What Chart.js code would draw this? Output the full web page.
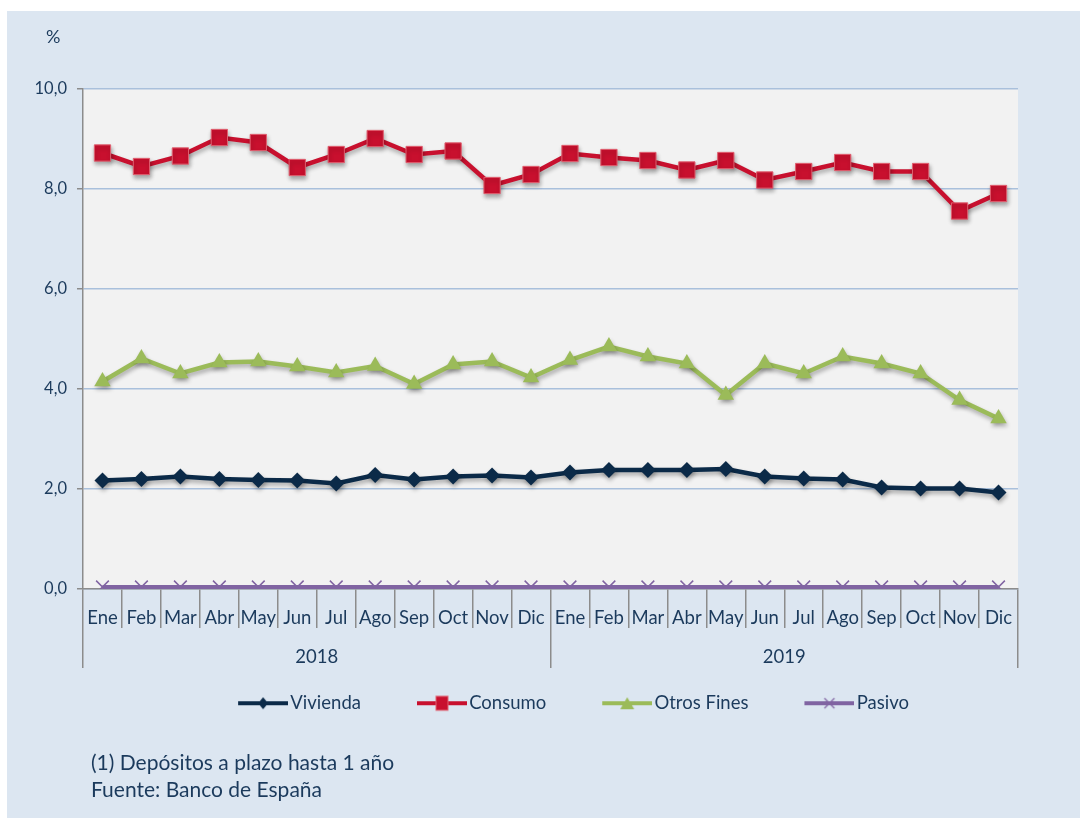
<!DOCTYPE html>
<html lang="es">
<head>
<meta charset="utf-8">
<script src="https://cdn.jsdelivr.net/npm/chart.js@4.4.1/dist/chart.umd.min.js"></script>
<style>
  html, body { margin: 0; padding: 0; background: #fff; }
  body { width: 1080px; height: 818px; position: relative; overflow: hidden; font-family: Lato, sans-serif; color: #1b3a5c; }
  #fondo { position: absolute; left: 7px; top: 11px; right: 0; bottom: 0; background: #dce6f1; }
  #grafico { position: absolute; left: 0; top: 0; }
  .txt { position: absolute; white-space: nowrap; line-height: 1; }
</style>
</head>
<body>
<div id="fondo"></div>
<canvas id="grafico" width="1080" height="818"></canvas>
<div class="txt" style="left:46px; top:27px; font-size:18px;">%</div>
<div class="txt" style="left:91px; top:751px; font-size:21px;">(1) Depósitos a plazo hasta 1 año</div>
<div class="txt" style="left:91px; top:778px; font-size:21px;">Fuente: Banco de España</div>
<script>
// datos
const meses = ['Ene', 'Feb', 'Mar', 'Abr', 'May', 'Jun', 'Jul', 'Ago', 'Sep', 'Oct', 'Nov', 'Dic',
               'Ene', 'Feb', 'Mar', 'Abr', 'May', 'Jun', 'Jul', 'Ago', 'Sep', 'Oct', 'Nov', 'Dic'];
const anios = ['2018', '2019'];
const vivienda = [2.17, 2.20, 2.25, 2.20, 2.18, 2.17, 2.11, 2.28, 2.19, 2.25, 2.27, 2.23,
                  2.33, 2.38, 2.38, 2.38, 2.40, 2.25, 2.21, 2.19, 2.03, 2.01, 2.01, 1.93];
const consumo = [8.72, 8.45, 8.66, 9.03, 8.93, 8.43, 8.69, 9.01, 8.69, 8.76, 8.07, 8.29,
                 8.71, 8.63, 8.57, 8.38, 8.57, 8.18, 8.35, 8.53, 8.35, 8.35, 7.56, 7.91];
const otrosFines = [4.15, 4.61, 4.31, 4.53, 4.55, 4.45, 4.33, 4.46, 4.10, 4.49, 4.55, 4.23,
                    4.58, 4.85, 4.65, 4.51, 3.88, 4.51, 4.31, 4.65, 4.51, 4.31, 3.78, 3.41];
const pasivo = [0.04, 0.04, 0.04, 0.04, 0.04, 0.04, 0.04, 0.04, 0.04, 0.04, 0.04, 0.04,
                0.04, 0.04, 0.04, 0.04, 0.04, 0.04, 0.04, 0.04, 0.04, 0.04, 0.04, 0.04];

const azulTexto = '#1b3a5c';
const gris = '#8c8c8c';
const fuente = 'Lato';

// iconos de la leyenda: linea + marcador (la linea va pegada al borde derecho)
const anchoIcono = 103;
function icono(color, tipo) {
  const c = document.createElement('canvas');
  c.width = anchoIcono; c.height = 20;
  const g = c.getContext('2d');
  g.strokeStyle = color;
  g.lineWidth = 4;
  g.beginPath(); g.moveTo(anchoIcono - 50, 10); g.lineTo(anchoIcono, 10); g.stroke();
  g.fillStyle = color;
  const cx = anchoIcono - 25, cy = 10;
  g.beginPath();
  if (tipo === 'rombo') {
    g.moveTo(cx, cy - 6); g.lineTo(cx + 5, cy); g.lineTo(cx, cy + 6); g.lineTo(cx - 5, cy); g.closePath(); g.fill();
  } else if (tipo === 'cuadrado') {
    g.fillRect(cx - 6, cy - 7, 12, 14);
    g.strokeStyle = '#e06070'; g.lineWidth = 1; g.strokeRect(cx - 6, cy - 7, 12, 14);
  } else if (tipo === 'triangulo') {
    g.moveTo(cx, cy - 6); g.lineTo(cx + 7, cy + 6); g.lineTo(cx - 7, cy + 6); g.closePath(); g.fill();
  } else {
    g.lineWidth = 1.2;
    g.moveTo(cx - 5, cy - 5); g.lineTo(cx + 5, cy + 5);
    g.moveTo(cx + 5, cy - 5); g.lineTo(cx - 5, cy + 5); g.stroke();
  }
  return c;
}
const iconos = [
  icono('#0b2a48', 'rombo'),
  icono('#c8102e', 'cuadrado'),
  icono('#9bbb59', 'triangulo'),
  icono('#8064a2', 'cruz')
];

const fondoArea = {
  id: 'fondoArea',
  beforeDraw(chart) {
    const { ctx, chartArea: a } = chart;
    ctx.save();
    ctx.fillStyle = '#f2f2f2';
    ctx.fillRect(a.left, a.top, a.right - a.left, a.bottom - a.top);
    ctx.restore();
  }
};

// sombra bajo las lineas (como en Excel)
const sombra = {
  id: 'sombra',
  beforeDatasetDraw(chart, args) {
    if (args.index === 3) return;
    const ctx = chart.ctx;
    ctx.save();
    ctx.shadowColor = 'rgba(0,0,0,0.3)';
    ctx.shadowBlur = 4;
    ctx.shadowOffsetX = 1;
    ctx.shadowOffsetY = 3;
  },
  afterDatasetDraw(chart, args) {
    if (args.index === 3) return;
    chart.ctx.restore();
  }
};

new Chart(document.getElementById('grafico'), {
  type: 'line',
  data: {
    labels: meses,
    datasets: [
      {
        label: 'Vivienda', data: vivienda,
        borderColor: '#0b2a48', backgroundColor: '#0b2a48', borderWidth: 4.5,
        pointStyle: 'rectRot', pointRadius: 8, pointBorderWidth: 0, pointBackgroundColor: '#0b2a48'
      },
      {
        label: 'Consumo', data: consumo,
        borderColor: '#c8102e', backgroundColor: '#c8102e', borderWidth: 4.5,
        pointStyle: 'rect', pointRadius: 11.5, pointBorderWidth: 1,
        pointBackgroundColor: '#c8102e', pointBorderColor: '#e06070'
      },
      {
        label: 'Otros Fines', data: otrosFines,
        borderColor: '#9bbb59', backgroundColor: '#9bbb59', borderWidth: 4.5,
        pointStyle: 'triangle', pointRadius: 9.5, pointBorderWidth: 0, pointBackgroundColor: '#9bbb59'
      },
      {
        label: 'Pasivo', data: pasivo,
        borderColor: '#8064a2', backgroundColor: '#8064a2', borderWidth: 4,
        pointStyle: 'crossRot', pointRadius: 9, pointBorderWidth: 1.5, pointBorderColor: '#8064a2'
      }
    ]
  },
  plugins: [fondoArea, sombra],
  options: {
    responsive: false,
    animation: false,
    devicePixelRatio: 1,
    layout: { padding: { left: 0, right: 62, top: 89, bottom: 95.5 } },
    elements: { line: { tension: 0 } },
    plugins: {
      tooltip: { enabled: false },
      legend: {
        position: 'bottom',
        fullSize: false,
        labels: {
          usePointStyle: true,
          pointStyleWidth: anchoIcono - 14,
          padding: 10,
          color: azulTexto,
          font: { family: fuente, size: 18.5 },
          generateLabels(chart) {
            const base = Chart.defaults.plugins.legend.labels.generateLabels(chart);
            return base.map((it, i) => Object.assign(it, { pointStyle: iconos[i] }));
          }
        }
      }
    },
    scales: {
      y: {
        min: 0, max: 10,
        afterFit(scale) { scale.width = 83; },
        ticks: {
          stepSize: 2, padding: 10, color: azulTexto,
          font: { family: fuente, size: 16.5 },
          callback: v => v.toFixed(1).replace('.', ',')
        },
        grid: { color: '#a9c0dc', lineWidth: 1.5, tickColor: gris, tickLength: 6 },
        border: { color: gris, width: 1.5 }
      },
      x: {
        offset: true,
        afterFit(scale) { scale.height = 39; },
        ticks: {
          autoSkip: false, maxRotation: 0, padding: -21, color: azulTexto,
          font: { family: fuente, size: 18.5 }
        },
        grid: { offset: true, drawOnChartArea: false, color: gris, tickLength: 39, lineWidth: 1.5 },
        border: { color: gris, width: 1.5 }
      },
      anios: {
        type: 'category',
        labels: anios,
        position: 'bottom',
        offset: true,
        afterFit(scale) { scale.height = 56; },
        ticks: {
          maxRotation: 0, padding: -22, color: azulTexto,
          font: { family: fuente, size: 18.5 }
        },
        grid: { offset: true, drawOnChartArea: false, color: gris, tickLength: 40, lineWidth: 1.5 },
        border: { display: false }
      }
    }
  }
});
</script>
</body>
</html>
